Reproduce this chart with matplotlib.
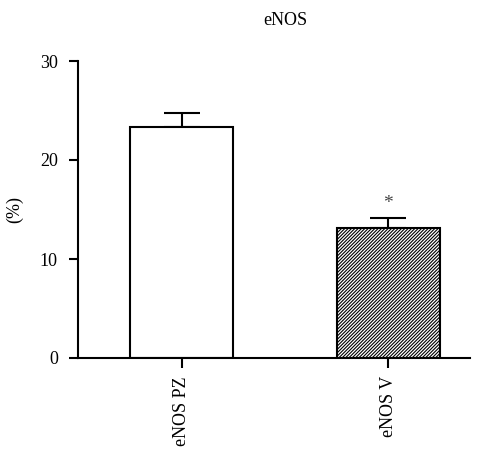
import numpy as np
import matplotlib.pyplot as plt
import matplotlib as mpl

mpl.rcParams['font.family'] = 'Liberation Serif'
mpl.rcParams['hatch.linewidth'] = 0.8

groups = ['eNOS PZ', 'eNOS V']
means = [23.3, 13.1]
sems = [1.4, 1.0]

fig = plt.figure(figsize=(4.89, 4.49), dpi=100)
ax = fig.add_axes([78/489, 1-358/449, 392/489, 297/449])

x = np.arange(len(groups))
ax.bar(x[0], means[0], width=0.5, color='white', edgecolor='black', linewidth=1.5, zorder=2)
ax.bar(x[1], means[1], width=0.5, color='white', edgecolor='black', linewidth=1.5,
       hatch='//////////', zorder=2)
ax.errorbar(x, means, yerr=[[0, 0], sems], fmt='none', ecolor='black', elinewidth=1.5,
            capsize=13, capthick=1.5, zorder=1)
ax.text(x[1], means[1] + sems[1] + 1.5, '*', ha='center', va='center', fontsize=14, color='#444444')

ax.set_xlim(-0.504, 1.397)
ax.set_ylim(0, 30)
ax.set_yticks([0, 10, 20, 30])
ax.set_xticks(x)
ax.set_xticklabels(groups, rotation=90, fontsize=13)
ax.tick_params(axis='y', labelsize=13, direction='out', length=6.5, width=1.5, pad=8)
ax.tick_params(axis='x', direction='out', length=7, width=1.5, pad=6)
for s in ['top', 'right']:
    ax.spines[s].set_visible(False)
for s in ['left', 'bottom']:
    ax.spines[s].set_linewidth(1.5)
ax.set_ylabel('(%)', fontsize=13, labelpad=12)
ax.set_title('eNOS', fontsize=13, pad=26, x=0.528)

plt.savefig('out.png', dpi=100)
